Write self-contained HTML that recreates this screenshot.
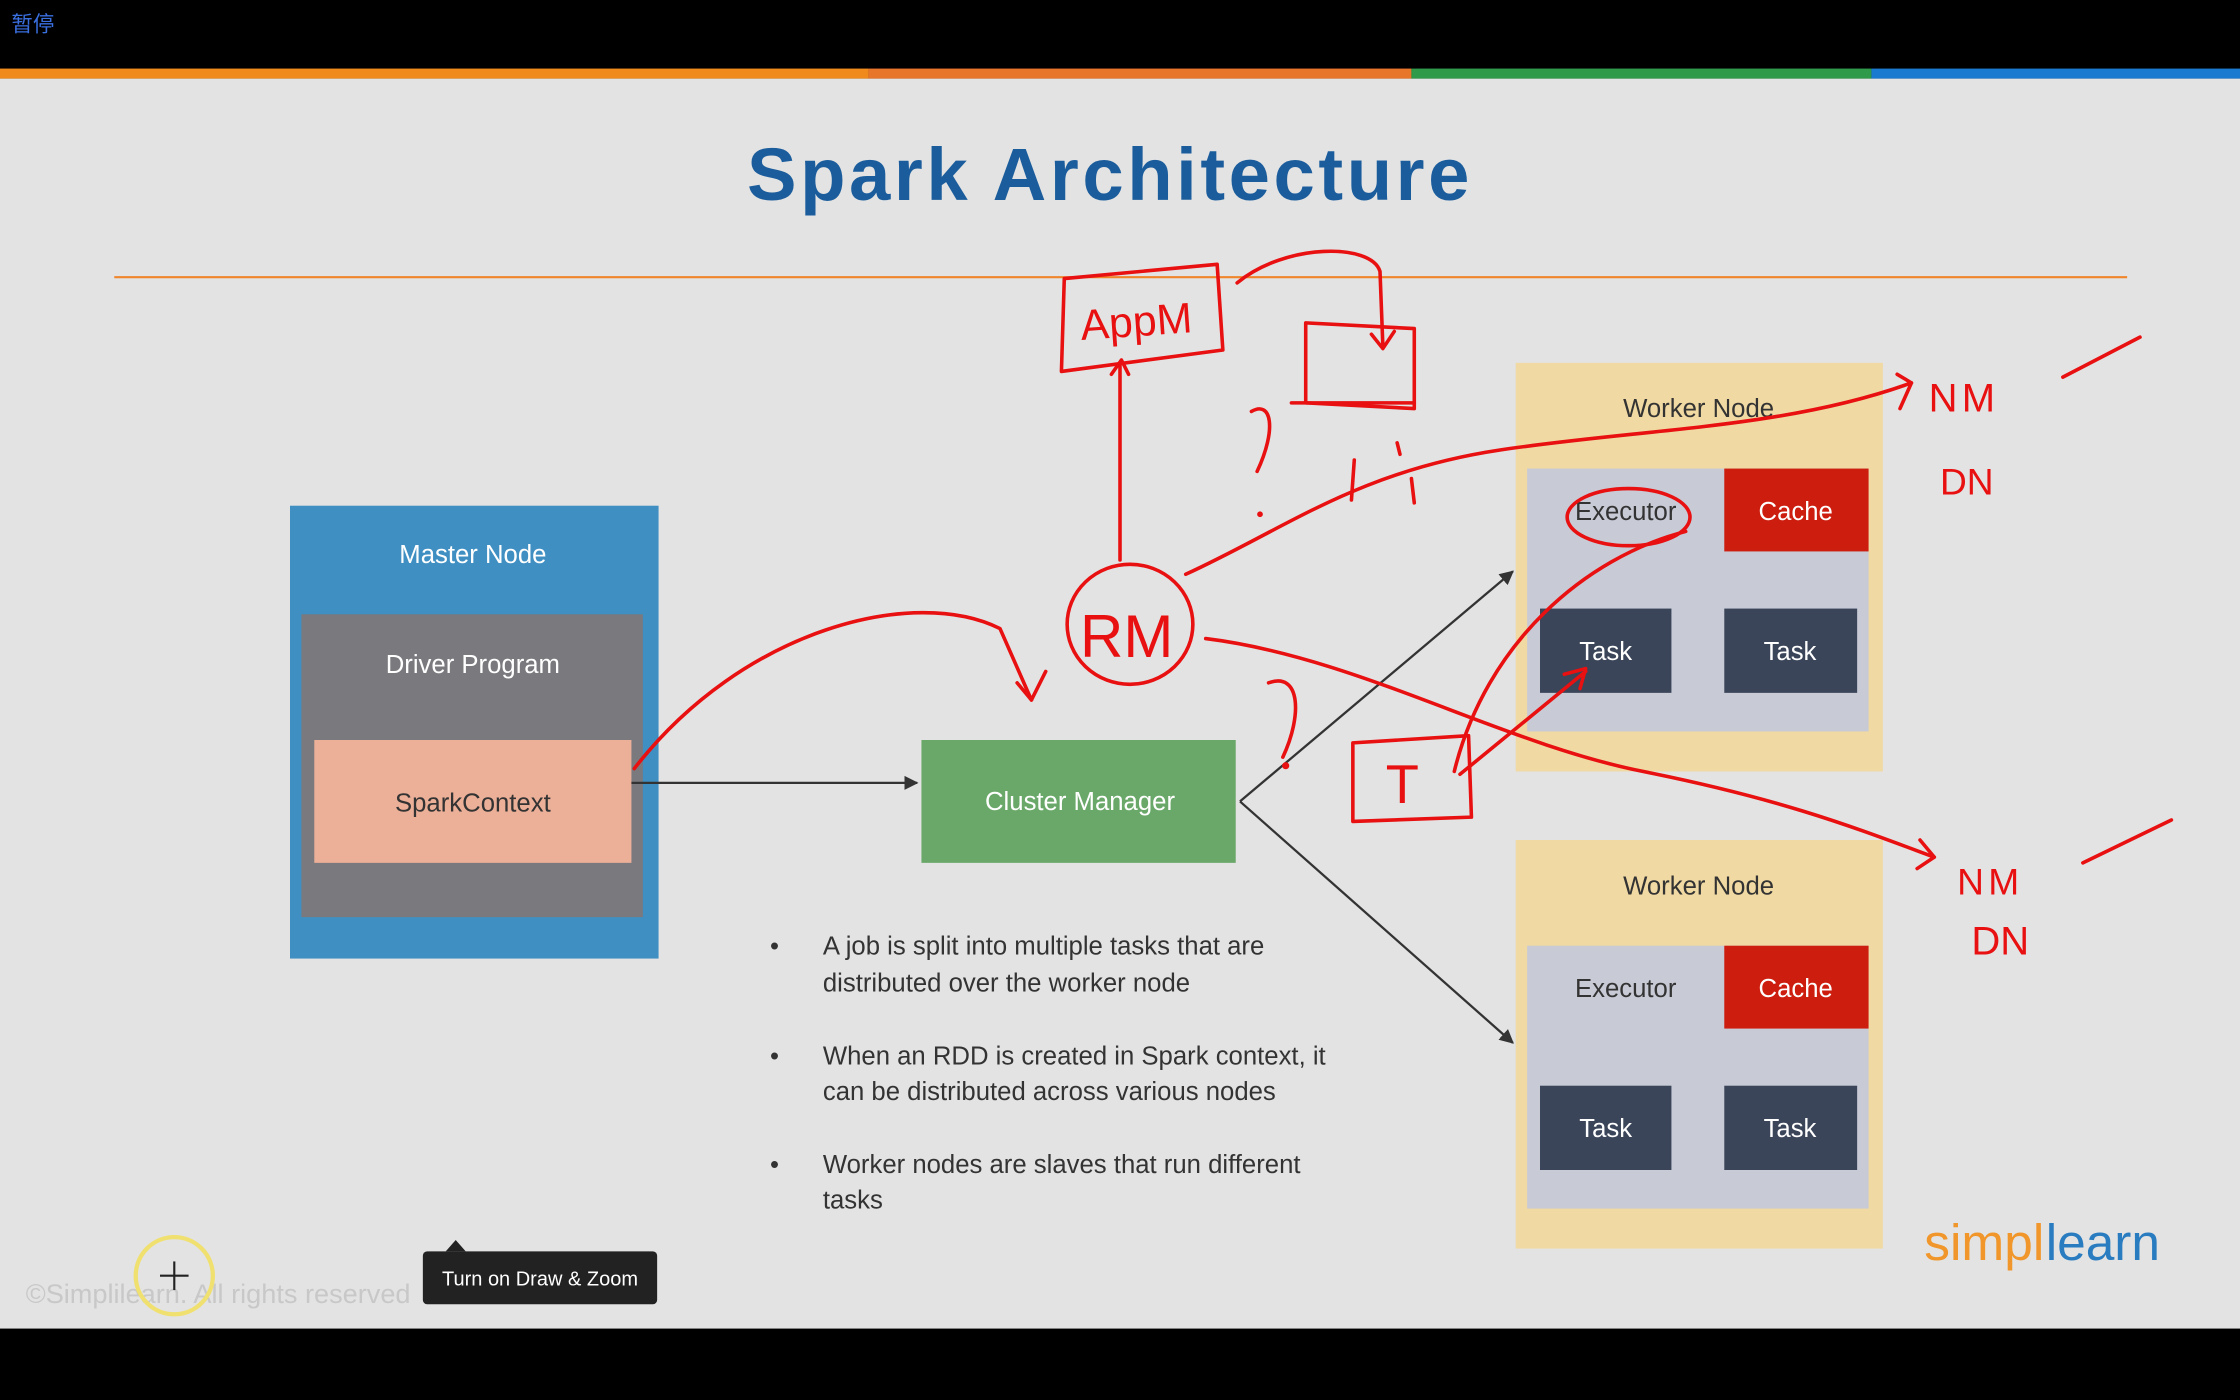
<!DOCTYPE html>
<html><head><meta charset="utf-8"><style>
html,body{margin:0;padding:0;width:2240px;height:1400px;overflow:hidden;background:#000}
svg{display:block}
text{font-family:"Liberation Sans","Noto Sans CJK SC",sans-serif}
</style></head><body>
<svg width="2240" height="1400" viewBox="0 0 1568 980" preserveAspectRatio="none" xmlns="http://www.w3.org/2000/svg">
<defs>
<marker id="ah" markerWidth="10" markerHeight="10" refX="9" refY="5" orient="auto" markerUnits="userSpaceOnUse"><path d="M0,0 L10,5 L0,10 z" fill="#333"/></marker>
</defs>
<rect x="0" y="0" width="1568" height="980" fill="#000"/>
<text x="8" y="22" font-size="15" fill="#3a6fe0">暂停</text>
<rect x="0" y="55" width="1568" height="875" fill="#e3e3e3"/>
<rect x="0" y="48" width="608" height="7" fill="#f08a1c"/>
<rect x="608" y="48" width="380" height="7" fill="#e8762a"/>
<rect x="988" y="48" width="322" height="7" fill="#2e9a4a"/>
<rect x="1310" y="48" width="258" height="7" fill="#1a7ad0"/>
<text x="777" y="140" font-size="52" font-weight="bold" fill="#1b5d9c" text-anchor="middle" letter-spacing="2.5">Spark Architecture</text>
<line x1="80" y1="194" x2="1489" y2="194" stroke="#f0852a" stroke-width="1.5"/>

<rect x="203" y="354" width="258" height="317" fill="#3f8fc2"/>
<text x="331" y="394" font-size="18" fill="#fff" text-anchor="middle">Master Node</text>
<rect x="211" y="430" width="239" height="212" fill="#7a797e"/>
<text x="331" y="471" font-size="18" fill="#fff" text-anchor="middle">Driver Program</text>
<rect x="220" y="518" width="222" height="86" fill="#ecaf98"/>
<text x="331" y="568" font-size="18" fill="#333" text-anchor="middle">SparkContext</text>

<line x1="442" y1="548" x2="642" y2="548" stroke="#333" stroke-width="1.6" marker-end="url(#ah)"/>
<rect x="645" y="518" width="220" height="86" fill="#6aa86a"/>
<text x="756" y="567" font-size="18" fill="#fff" text-anchor="middle">Cluster Manager</text>
<line x1="868" y1="561" x2="1059" y2="400" stroke="#333" stroke-width="1.6" marker-end="url(#ah)"/>
<line x1="868" y1="561" x2="1059" y2="730" stroke="#333" stroke-width="1.6" marker-end="url(#ah)"/>

<g>
<rect x="1061" y="254" width="257" height="286" fill="#f0d9a2"/>
<text x="1189" y="292" font-size="18" fill="#333" text-anchor="middle">Worker Node</text>
<rect x="1069" y="328" width="239" height="184" fill="#c8cad5"/>
<text x="1138" y="364" font-size="18" fill="#333" text-anchor="middle">Executor</text>
<rect x="1207" y="328" width="101" height="58" fill="#cc1d0e"/>
<text x="1257" y="364" font-size="18" fill="#fff" text-anchor="middle">Cache</text>
<rect x="1078" y="426" width="92" height="59" fill="#3a4559"/>
<text x="1124" y="462" font-size="18" fill="#fff" text-anchor="middle">Task</text>
<rect x="1207" y="426" width="93" height="59" fill="#3a4559"/>
<text x="1253" y="462" font-size="18" fill="#fff" text-anchor="middle">Task</text>
</g>
<g>
<rect x="1061" y="588" width="257" height="286" fill="#f0d9a2"/>
<text x="1189" y="626" font-size="18" fill="#333" text-anchor="middle">Worker Node</text>
<rect x="1069" y="662" width="239" height="184" fill="#c8cad5"/>
<text x="1138" y="698" font-size="18" fill="#333" text-anchor="middle">Executor</text>
<rect x="1207" y="662" width="101" height="58" fill="#cc1d0e"/>
<text x="1257" y="698" font-size="18" fill="#fff" text-anchor="middle">Cache</text>
<rect x="1078" y="760" width="92" height="59" fill="#3a4559"/>
<text x="1124" y="796" font-size="18" fill="#fff" text-anchor="middle">Task</text>
<rect x="1207" y="760" width="93" height="59" fill="#3a4559"/>
<text x="1253" y="796" font-size="18" fill="#fff" text-anchor="middle">Task</text>
</g>

<g font-size="18" fill="#333">
<text x="539" y="668">•</text><text x="576" y="668">A job is split into multiple tasks that are</text><text x="576" y="694">distributed over the worker node</text>
<text x="539" y="745">•</text><text x="576" y="745">When an RDD is created in Spark context, it</text><text x="576" y="770">can be distributed across various nodes</text>
<text x="539" y="821">•</text><text x="576" y="821">Worker nodes are slaves that run different</text><text x="576" y="846">tasks</text>
</g>

<text x="1347" y="882" font-size="36" fill="#f0962a">simpl</text>
<text x="1432" y="882" font-size="36" fill="#2a7cc0">learn</text>
<text x="18" y="912" font-size="19" fill="#c8c8c8">©Simplilearn. All rights reserved</text>
<circle cx="122" cy="893" r="27" fill="none" stroke="#f0e070" stroke-width="3"/>
<line x1="112" y1="893" x2="132" y2="893" stroke="#222" stroke-width="1.5"/>
<line x1="122" y1="883" x2="122" y2="903" stroke="#222" stroke-width="1.5"/>
<path d="M312,876 L319,868 L326,876 z" fill="#222"/>
<rect x="296" y="876" width="164" height="37" rx="3" fill="#222"/>
<text x="378" y="900" font-size="14" fill="#fff" text-anchor="middle">Turn on Draw &amp; Zoom</text>

<g fill="none" stroke="#e81010" stroke-width="2.5" stroke-linecap="round" stroke-linejoin="round">
<path d="M745,195 L852,185 L856,245 L743,260 z"/>
<path d="M866,198 C900,170 960,170 966,190 L968,242"/><path d="M960,234 L968,244 L976,232"/>
<path d="M914,226 L990,230 L990,286 L914,282 z"/><path d="M904,282 L990,282"/>
<path d="M784,392 L784,255"/><path d="M778,262 L785,252 L790,262"/>
<ellipse cx="791" cy="437" rx="44" ry="42"/>
<path d="M830,402 C900,370 950,330 1050,315 C1150,300 1250,300 1338,268"/><path d="M1328,262 L1338,268 L1330,286"/>
<path d="M844,447 C950,460 1050,520 1150,540 C1250,560 1300,580 1354,600"/><path d="M1344,588 L1354,600 L1342,608"/>
<path d="M444,538 C520,440 640,410 700,440 L722,490"/><path d="M712,478 L722,490 L732,470"/>
<path d="M947,520 L1028,515 L1030,572 L947,575 z"/>
<path d="M1018,540 C1040,450 1110,390 1180,372"/><path d="M1022,542 L1110,470"/><path d="M1095,472 L1110,468 L1106,482"/>
<ellipse cx="1140" cy="362" rx="43" ry="20"/>
<path d="M876,288 C890,280 894,300 880,330"/><path d="M888,478 C910,470 912,500 898,530"/>
<path d="M948,322 L946,350"/><path d="M978,310 L980,318"/><path d="M988,335 L990,352"/>
<path d="M1444,264 L1498,236"/><path d="M1458,604 L1520,574"/>
</g>
<g fill="#e81010" font-family="Liberation Sans,sans-serif">
<text x="757" y="238" font-size="30" transform="rotate(-4 757 238)">AppM</text>
<text x="756" y="460" font-size="42">RM</text>
<text x="970" y="562" font-size="38">T</text>
<text x="1350" y="288" font-size="28" letter-spacing="3">NM</text>
<text x="1358" y="346" font-size="26">DN</text>
<text x="1370" y="626" font-size="26" letter-spacing="3">NM</text>
<text x="1380" y="668" font-size="28">DN</text>
</g>
<circle cx="882" cy="360" r="2" fill="#e81010"/><circle cx="900" cy="536" r="2.5" fill="#e81010"/>
</svg>
</body></html>
